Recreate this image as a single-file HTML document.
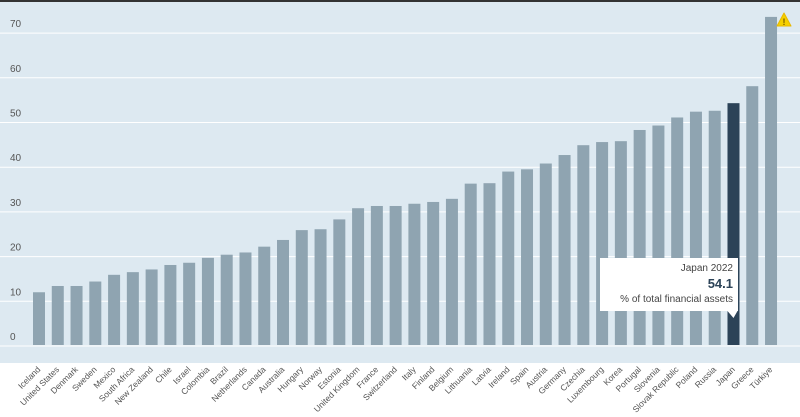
<!DOCTYPE html>
<html><head><meta charset="utf-8"><style>
body{margin:0;width:800px;height:417px;background:#fff;overflow:hidden;font-family:"Liberation Sans",sans-serif}
svg{display:block}
</style></head><body>
<svg id="c" width="800" height="417">
<rect x="0" y="0" width="800" height="363" fill="#dde9f1"/>
<rect x="0" y="0" width="800" height="2" fill="#333"/>
<g id="grid"></g><g id="bars"></g><g id="labels"></g>
</svg>
<script>
const categories=["Iceland","United States","Denmark","Sweden","Mexico","South Africa","New Zealand","Chile","Israel","Colombia","Brazil","Netherlands","Canada","Australia","Hungary","Norway","Estonia","United Kingdom","France","Switzerland","Italy","Finland","Belgium","Lithuania","Latvia","Ireland","Spain","Austria","Germany","Czechia","Luxembourg","Korea","Portugal","Slovenia","Slovak Republic","Poland","Russia","Japan","Greece","Türkiye"];
const values=[11.8,13.2,13.2,14.2,15.7,16.3,16.9,17.9,18.4,19.5,20.2,20.7,22.0,23.5,25.7,25.9,28.1,30.6,31.1,31.1,31.6,32.0,32.7,36.1,36.2,38.8,39.3,40.6,42.5,44.7,45.4,45.6,48.1,49.1,50.9,52.2,52.4,54.1,57.9,73.4];
const ticks=[0,10,20,30,40,50,60,70];
const highlight="Japan";
const NS="http://www.w3.org/2000/svg";
const y=v=>345-v*4.47;
const x=i=>33+i*18.77;
const bw=12;
function mk(t,a,p){const e=document.createElementNS(NS,t);for(const k in a)e.setAttribute(k,a[k]);p.appendChild(e);return e;}
const g=document.getElementById('grid'),b=document.getElementById('bars'),l=document.getElementById('labels'),svg=document.getElementById('c');
ticks.forEach(t=>{
 const ln=mk('line',{x1:0,x2:800,y1:y(t)+1,y2:y(t)+1,stroke:'#fff','stroke-width':1},g);
 
 
 const tx=mk('text',{x:10,y:y(t)-5,'font-size':10,fill:'#555'},g);
 tx.textContent=t;
 
 
});
categories.forEach((c,i)=>{
 const r=mk('rect',{x:x(i),y:y(values[i]),width:bw,height:345-y(values[i]),fill:c===highlight?'#2c4358':'#8fa4b1'},b);
 
 
 const cx=x(i)+bw/2+2;
 const t=mk('text',{x:cx,y:370,'font-size':8.5,fill:'#555','text-anchor':'end',transform:`rotate(-45 ${cx} 370)`},l);
 t.textContent=c;
 
 
});
// tooltip
const ji=categories.indexOf(highlight);
const jx=x(ji)+bw/2;
const tg=mk('g',{},svg);


mk('path',{d:`M600 258 H738 V311 H${jx+4} L${jx} 318 L${jx-6} 311 H600 Z`,fill:'#fff'},tg);
const t1=mk('text',{x:733,y:271,'font-size':10,fill:'#444','text-anchor':'end'},tg);t1.textContent=highlight+' 2022';
const t2=mk('text',{x:733,y:288,'font-size':13,'font-weight':'bold',fill:'#2c4358','text-anchor':'end'},tg);t2.textContent=values[ji].toFixed(1);
const t3=mk('text',{x:733,y:302,'font-size':10,fill:'#444','text-anchor':'end'},tg);t3.textContent='% of total financial assets';
// warning icon
const w=mk('g',{},svg);


mk('path',{d:'M784 13 L791 26 L777 26 Z',fill:'#f5d000',stroke:'#e8b800','stroke-width':1,'stroke-linejoin':'round'},w);
const wt=mk('text',{x:784,y:25,'font-size':9,'font-weight':'bold',fill:'#7a5a00','text-anchor':'middle'},w);wt.textContent='!';
</script>
</body></html>
